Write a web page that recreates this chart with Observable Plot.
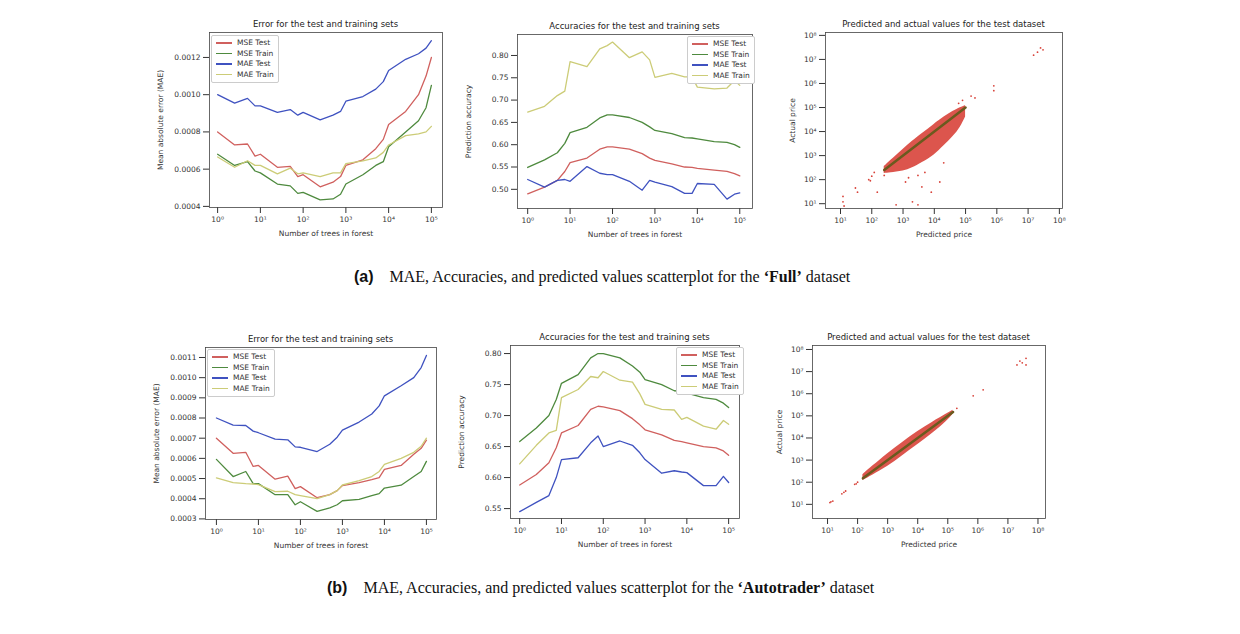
<!DOCTYPE html>
<html><head><meta charset="utf-8">
<script src="https://cdn.jsdelivr.net/npm/d3@7"></script>
<script src="https://cdn.jsdelivr.net/npm/@observablehq/plot@0.6"></script>
<style>
body{margin:0;background:#fff;width:1240px;height:634px;position:relative;overflow:hidden;font-family:"DejaVu Sans",sans-serif}
.p{position:absolute}
.t{position:absolute;font-size:8.5px;color:#222;text-align:center;white-space:nowrap}
.leg{position:absolute;border:1px solid #ccc;background:#fff;font-size:7.5px;color:#333;padding:2px 4px;line-height:10.5px;border-radius:2px}
.leg i{display:inline-block;width:16px;height:1.5px;vertical-align:middle;margin-right:5px}
.cap{position:absolute;font-family:"Liberation Serif",serif;font-size:16px;color:#111;white-space:nowrap}
.cap b.l{font-family:"Liberation Sans",sans-serif}
</style></head><body>
<script>
const trees = [1,2.5,5,7.5,10,25,50,75,100,250,500,750,1000,2500,5000,7500,10000,25000,50000,75000,100000];
const seriesNames = ["MSE Test","MSE Train","MAE Test","MAE Train"];
const colors = ["#d0605e","#4e8a3e","#3f52c0","#cccc77"];

// (a) Full dataset – error
const aErrMseTest = [0.00080,0.00073,0.000735,0.00067,0.00068,0.00061,0.000615,0.00056,0.00057,0.000505,0.00053,0.00056,0.00062,0.00065,0.00071,0.00076,0.00084,0.00091,0.00100,0.00110,0.00120];
const aErrMseTrain = [0.00068,0.00062,0.00064,0.00059,0.00058,0.00052,0.00051,0.00047,0.000475,0.000435,0.00044,0.000465,0.00052,0.00057,0.00062,0.00064,0.00072,0.00080,0.00086,0.00093,0.00105];
const aErrMaeTest = [0.00100,0.000955,0.00098,0.00094,0.00094,0.000905,0.00092,0.00089,0.000905,0.000865,0.00089,0.00091,0.000965,0.00099,0.00103,0.00107,0.00113,0.00119,0.00122,0.00125,0.00129];
const aErrMaeTrain = [0.000665,0.00061,0.000645,0.00062,0.00062,0.000575,0.000605,0.000575,0.00058,0.00056,0.00058,0.00058,0.00063,0.000645,0.00066,0.00069,0.00073,0.00078,0.00079,0.00080,0.00083];
// (a) accuracy
const aAccMseTest = [0.49,0.505,0.52,0.54,0.56,0.57,0.59,0.595,0.595,0.59,0.58,0.57,0.565,0.557,0.55,0.549,0.547,0.543,0.54,0.535,0.53];
const aAccMseTrain = [0.549,0.566,0.582,0.603,0.627,0.639,0.66,0.667,0.667,0.661,0.65,0.64,0.632,0.625,0.616,0.615,0.613,0.607,0.605,0.6,0.594];
const aAccMaeTest = [0.522,0.505,0.52,0.522,0.518,0.551,0.536,0.533,0.533,0.518,0.498,0.52,0.516,0.506,0.491,0.491,0.513,0.511,0.478,0.489,0.492];
const aAccMaeTrain = [0.673,0.686,0.71,0.72,0.786,0.775,0.815,0.822,0.830,0.795,0.808,0.79,0.751,0.76,0.752,0.752,0.729,0.725,0.727,0.744,0.733];
// (b) Autotrader – error
const bErrMseTest = [0.00070,0.000625,0.00063,0.00056,0.000565,0.000497,0.000512,0.00045,0.00046,0.000405,0.00042,0.00044,0.000465,0.00048,0.000495,0.000505,0.000545,0.000565,0.00062,0.00065,0.00069];
const bErrMseTrain = [0.000595,0.00051,0.000535,0.000475,0.000475,0.00042,0.00042,0.00037,0.000385,0.000337,0.000355,0.00037,0.00039,0.000397,0.000415,0.000425,0.000453,0.000467,0.00051,0.000535,0.000585];
const bErrMaeTest = [0.00080,0.000765,0.000763,0.000735,0.000727,0.000695,0.000692,0.000657,0.000655,0.000634,0.00067,0.000705,0.00074,0.00078,0.00082,0.00086,0.00091,0.00096,0.0010,0.00105,0.00111];
const bErrMaeTrain = [0.000503,0.00048,0.000475,0.000473,0.00047,0.000435,0.000437,0.00042,0.000415,0.0004,0.00042,0.00044,0.000468,0.00049,0.00051,0.000535,0.00057,0.0006,0.00063,0.00066,0.0007];
// (b) accuracy
const bAccMseTest = [0.588,0.605,0.624,0.648,0.672,0.684,0.71,0.715,0.714,0.708,0.695,0.685,0.677,0.669,0.66,0.658,0.656,0.65,0.648,0.643,0.636];
const bAccMseTrain = [0.658,0.68,0.7,0.726,0.752,0.766,0.793,0.8,0.8,0.793,0.78,0.77,0.758,0.75,0.74,0.739,0.736,0.729,0.726,0.72,0.713];
const bAccMaeTest = [0.545,0.56,0.571,0.6,0.629,0.632,0.656,0.667,0.65,0.659,0.652,0.64,0.629,0.607,0.611,0.609,0.608,0.587,0.587,0.602,0.592];
const bAccMaeTrain = [0.622,0.652,0.672,0.676,0.729,0.742,0.763,0.761,0.771,0.757,0.754,0.735,0.718,0.71,0.709,0.694,0.697,0.683,0.678,0.692,0.686];

// scatter: density band (predicted, lower actual, upper actual) + sparse points
const aBandPred = [250,500,1000,2000,4000,10000,20000,40000,70000,100000];
const aBandLow  = [180,200,220,300,500,1000,2500,6000,15000,40000];
const aBandHigh = [350,800,1800,4000,8000,20000,40000,70000,100000,120000];
const aPtsPred = [12,12,13,30,35,80,90,100,120,150,250,250,600,2000,3000,4000,8000,15000,60000,80000,150000,200000,8e5,8e5,1.5e7,2e7,2.5e7,3e7,1500,5000,20000,1200,3000];
const aPtsAct  = [20,12,8,45,30,100,90,140,200,30,250,150,9,12,9,50,30,80,150000,200000,300000,250000,8e5,5e5,1.5e7,2e7,3e7,2.5e7,120,200,500,80,150];
const bBandPred = [150,300,1000,3000,10000,30000,100000,150000];
const bBandLow  = [120,200,500,1500,5000,15000,60000,120000];
const bBandHigh = [220,500,2000,6000,20000,50000,130000,180000];
const bPtsPred = [12,13,15,30,35,40,80,90,100,200000,7e5,1.5e6,2e7,2.5e7,3e7,4e7,4e7];
const bPtsAct  = [12,13,14,30,35,40,80,85,100,220000,8e5,1.5e6,2e7,3e7,2.5e7,4e7,2e7];

const sup = {"0":"⁰","1":"¹","2":"²","3":"³","4":"⁴","5":"⁵","6":"⁶","7":"⁷","8":"⁸","-":"⁻"};
const pow = d => "10" + String(Math.round(Math.log10(d))).split("").map(c=>sup[c]).join("");
const decades = (a,b) => d3.range(a,b+1).map(e => 10**e);

function place(el, x0,y0,x1,y1, M){
  el.classList.add("p");
  el.style.left = (x0-M.l)+"px"; el.style.top = (y0-M.t)+"px";
  document.body.appendChild(el);
}
function title(txt,x0,x1,y){
  const d=document.createElement("div"); d.className="t"; d.textContent=txt;
  d.style.left=x0+"px"; d.style.width=(x1-x0)+"px"; d.style.top=y+"px"; document.body.appendChild(d);
}
function legend(x,y){
  const d=document.createElement("div"); d.className="leg";
  d.innerHTML=seriesNames.map((n,i)=>`<div><i style="background:${colors[i]}"></i>${n}</div>`).join("");
  d.style.left=x+"px"; d.style.top=y+"px"; document.body.appendChild(d);
}
const M = {l:60,r:10,t:20,b:34};
function common(x0,y0,x1,y1){
  return {width:x1-x0+M.l+M.r, height:y1-y0+M.t+M.b, marginLeft:M.l, marginRight:M.r, marginTop:M.t, marginBottom:M.b,
    style:{fontSize:"7.5px", fontFamily:"DejaVu Sans", color:"#333", background:"transparent", overflow:"visible"}};
}
function linePanel(box, xdom, ydom, yticks, yfmt, ylabel, series, t, legPos){
  const [x0,y0,x1,y1]=box;
  const rows = [];
  series.forEach((s,i)=>s.forEach((v,j)=>rows.push({x:trees[j], y:v, s:seriesNames[i]})));
  const p = Plot.plot({...common(x0,y0,x1,y1),
    x:{type:"log", domain:xdom, ticks:decades(0,5), tickFormat:pow, label:"Number of trees in forest", labelAnchor:"center", labelArrow:"none", labelOffset:28},
    y:{domain:ydom, ticks:yticks, tickFormat:yfmt, label:ylabel, labelAnchor:"center", labelArrow:"none", labelOffset:52},
    color:{domain:seriesNames, range:colors},
    marks:[
      Plot.line(rows,{x:"x",y:"y",stroke:"s",strokeWidth:1.3}),
      Plot.frame({stroke:"#444", strokeWidth:0.8})
    ]});
  place(p,x0,y0,x1,y1,M);
  title(t,x0,x1,y0-13);
  legend(legPos[0],legPos[1]);
}
function scatterPanel(box, xdom, ydom, bp, bl, bh, pp, pa){
  const [x0,y0,x1,y1]=box;
  const band = bp.map((d,i)=>({x:d, lo:bl[i], hi:bh[i]}));
  const pts = pp.map((d,i)=>({x:d, y:pa[i]}));
  const diag = [{x:bp[0],y:bp[0]},{x:bp[bp.length-1],y:bp[bp.length-1]}];
  const p = Plot.plot({...common(x0,y0,x1,y1),
    x:{type:"log", domain:xdom, ticks:decades(1,8), tickFormat:pow, label:"Predicted price", labelAnchor:"center", labelArrow:"none", labelOffset:28},
    y:{type:"log", domain:ydom, ticks:decades(1,8), tickFormat:pow, label:"Actual price", labelAnchor:"center", labelArrow:"none", labelOffset:36},
    marks:[
      Plot.areaY(band,{x:"x", y1:"lo", y2:"hi", fill:"#d8433a", fillOpacity:0.9, curve:"basis"}),
      Plot.dot(pts,{x:"x",y:"y",r:0.9,fill:"#d8433a"}),
      Plot.line(diag,{x:"x",y:"y",stroke:"#6b5a1e",strokeWidth:2.5}),
      Plot.frame({stroke:"#444", strokeWidth:0.8})
    ]});
  place(p,x0,y0,x1,y1,M);
  title("Predicted and actual values for the test dataset",x0,x1,y0-13);
}
const f4 = d=>d.toFixed(4), f2 = d=>d.toFixed(2);

linePanel([209,32,442,207],[10**-0.19,10**5.26],[0.000394,0.001334],[0.0004,0.0006,0.0008,0.0010,0.0012],f4,"Mean absolute error (MAE)",
  [aErrMseTest,aErrMseTrain,aErrMaeTest,aErrMaeTrain],"Error for the test and training sets",[211,35]);
linePanel([517,34,752,208],[10**-0.24,10**5.3],[0.457,0.847],d3.range(0.50,0.801,0.05),f2,"Prediction accuracy",
  [aAccMseTest,aAccMseTrain,aAccMaeTest,aAccMaeTrain],"Accuracies for the test and training sets",[687,36]);
scatterPanel([825,32,1062,208],[10**0.52,10**8.1],[10**0.8,10**8.12],aBandPred,aBandLow,aBandHigh,aPtsPred,aPtsAct);

linePanel([205,347,436,519],[10**-0.26,10**5.24],[0.000297,0.0011495],d3.range(0.0003,0.001101,0.0001),f4,"Mean absolute error (MAE)",
  [bErrMseTest,bErrMseTrain,bErrMaeTest,bErrMaeTrain],"Error for the test and training sets",[207,349]);
linePanel([510,345,739,518],[10**-0.22,10**5.26],[0.534,0.813],d3.range(0.55,0.801,0.05),f2,"Prediction accuracy",
  [bAccMseTest,bAccMseTrain,bAccMaeTest,bAccMaeTrain],"Accuracies for the test and training sets",[676,347]);
scatterPanel([812,345,1045,518],[10**0.5,10**8.25],[10**0.36,10**8.18],bBandPred,bBandLow,bBandHigh,bPtsPred,bPtsAct);

const c1=document.createElement("div"); c1.className="cap"; c1.style.left="354px"; c1.style.top="268px";
c1.innerHTML='<b class="l">(a)</b>&nbsp;&nbsp;&nbsp;&nbsp;MAE, Accuracies, and predicted values scatterplot for the <b>‘Full’</b> dataset';
document.body.appendChild(c1);
const c2=document.createElement("div"); c2.className="cap"; c2.style.left="327px"; c2.style.top="579px";
c2.innerHTML='<b class="l">(b)</b>&nbsp;&nbsp;&nbsp;&nbsp;MAE, Accuracies, and predicted values scatterplot for the <b>‘Autotrader’</b> dataset';
document.body.appendChild(c2);
</script>
</body></html>
